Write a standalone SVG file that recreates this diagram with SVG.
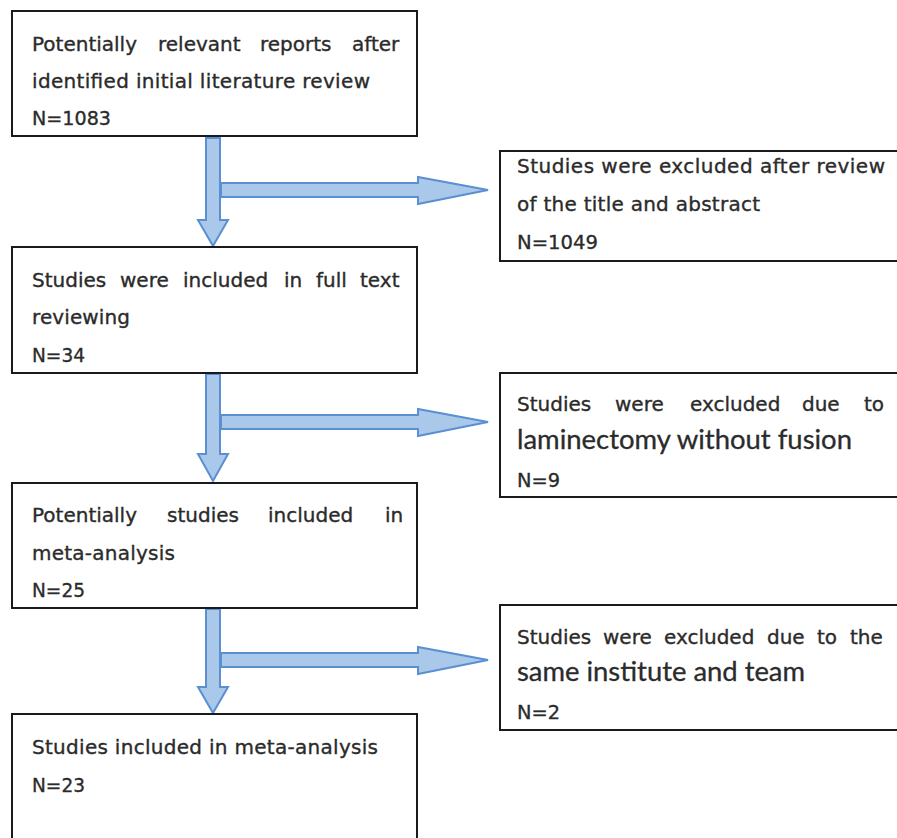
<svg xmlns="http://www.w3.org/2000/svg" width="897" height="838" viewBox="0 0 897 838">
<style>
.box{fill:#ffffff;stroke:#1a1a1a;stroke-width:2}
.t{font-family:"DejaVu Sans",sans-serif;font-size:20px;fill:#2b2b2b;stroke:#2b2b2b;stroke-width:0.35}
.tb{font-family:Lato,"Open Sans",sans-serif;font-size:26px;fill:#2b2b2b;stroke:#2b2b2b;stroke-width:0.3}
.arr{fill:#a9c8ea;stroke:#5a8fd2;stroke-width:2;stroke-linejoin:miter}
</style>
<rect width="897" height="838" fill="#ffffff"/>
<g id="connectors">
  <polygon class="arr" points="206,138 220,138 220,220 228,220 213,246 198,220 206,220"/>
  <polygon class="arr" points="221,183 418,183 418,177 488,190 418,204 418,197 221,197"/>
  <polygon class="arr" points="206,374 220,374 220,454 228,454 213,481 198,454 206,454"/>
  <polygon class="arr" points="221,415 418,415 418,409 488,422 418,436 418,429 221,429"/>
  <polygon class="arr" points="206,609 220,609 220,687 228,687 213,713 198,687 206,687"/>
  <polygon class="arr" points="221,653 418,653 418,647 488,660 418,674 418,667 221,667"/>
</g>
<g id="n1">
  <rect class="box" x="12" y="11" width="405" height="125"/>
  <text class="t" y="51"><tspan x="32">Potentially</tspan><tspan x="158">relevant</tspan><tspan x="260">reports</tspan><tspan x="352">after</tspan></text>
  <text class="t" x="32" y="88" textLength="338" lengthAdjust="spacing">identified initial literature review</text>
  <text class="t" x="32" y="125" textLength="79" lengthAdjust="spacingAndGlyphs">N=1083</text>
</g>
<g id="n2">
  <rect class="box" x="12" y="247" width="405" height="126"/>
  <text class="t" y="287"><tspan x="32">Studies</tspan><tspan x="120">were</tspan><tspan x="183">included</tspan><tspan x="284">in</tspan><tspan x="316">full</tspan><tspan x="360">text</tspan></text>
  <text class="t" x="32" y="324" textLength="98" lengthAdjust="spacing">reviewing</text>
  <text class="t" x="32" y="362" textLength="53" lengthAdjust="spacingAndGlyphs">N=34</text>
</g>
<g id="n3">
  <rect class="box" x="12" y="483" width="405" height="125"/>
  <text class="t" y="522"><tspan x="32">Potentially</tspan><tspan x="167">studies</tspan><tspan x="268">included</tspan><tspan x="385">in</tspan></text>
  <text class="t" x="32" y="560" textLength="143" lengthAdjust="spacing">meta-analysis</text>
  <text class="t" x="32" y="597" textLength="53" lengthAdjust="spacingAndGlyphs">N=25</text>
</g>
<g id="n4">
  <rect class="box" x="12" y="714" width="405" height="140"/>
  <text class="t" x="32" y="754" textLength="346" lengthAdjust="spacing">Studies included  in meta-analysis</text>
  <text class="t" x="32" y="792" textLength="53" lengthAdjust="spacingAndGlyphs">N=23</text>
</g>
<g id="r1">
  <rect class="box" x="500" y="151" width="420" height="110"/>
  <text class="t" x="517" y="173" textLength="368" lengthAdjust="spacing">Studies were excluded after review</text>
  <text class="t" x="517" y="211" textLength="243" lengthAdjust="spacing">of the title and abstract</text>
  <text class="t" x="517" y="249" textLength="81" lengthAdjust="spacingAndGlyphs">N=1049</text>
</g>
<g id="r2">
  <rect class="box" x="500" y="373" width="420" height="124"/>
  <text class="t" y="411"><tspan x="517">Studies</tspan><tspan x="615">were</tspan><tspan x="690">excluded</tspan><tspan x="802">due</tspan><tspan x="864">to</tspan></text>
  <text class="tb" x="517" y="449" textLength="335" lengthAdjust="spacingAndGlyphs">laminectomy without fusion</text>
  <text class="t" x="517" y="487" textLength="43" lengthAdjust="spacingAndGlyphs">N=9</text>
</g>
<g id="r3">
  <rect class="box" x="500" y="605" width="420" height="125"/>
  <text class="t" y="644"><tspan x="517">Studies</tspan><tspan x="603">were</tspan><tspan x="664">excluded</tspan><tspan x="767">due</tspan><tspan x="817">to</tspan><tspan x="850">the</tspan></text>
  <text class="tb" x="517" y="681" textLength="288" lengthAdjust="spacingAndGlyphs">same institute and team</text>
  <text class="t" x="517" y="719" textLength="43" lengthAdjust="spacingAndGlyphs">N=2</text>
</g>
</svg>
